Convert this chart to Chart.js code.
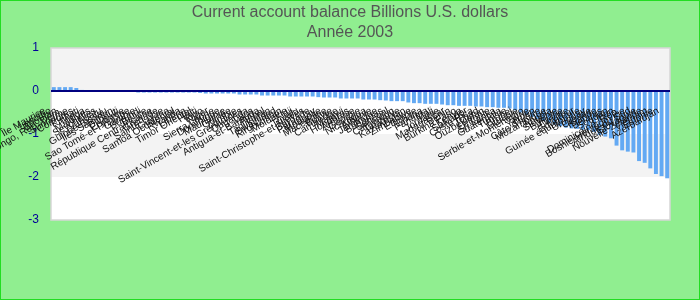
<!DOCTYPE html>
<html>
<head>
<meta charset="utf-8">
<script src="https://cdn.jsdelivr.net/npm/chart.js@4/dist/chart.umd.min.js"></script>
<style>
  html, body { margin: 0; padding: 0; background: #90ee90; }
  #wrap { width: 700px; height: 300px; }
</style>
</head>
<body>
<div id="wrap"><canvas id="myChart" width="700" height="300"></canvas></div>
<script>
// DATA
var countries = [
  'Île Maurice', 'Lesotho', 'Bhoutan', 'Congo, Rép. Dém.', 'Suriname', 'Comores', 'Kiribati', 'Tonga', 'Maldives', 'Seychelles',
  'Vanuatu', 'Guinée-Bissau', 'Îles Salomon', 'Djibouti', 'Érythrée', 'Sao Tomé-et-Principe', 'Gambie', 'Burundi', 'Belize', 'République Centrafricaine',
  'Grenade', 'Sainte-Lucie', 'Guyana', 'Samoa Occidental', 'Rwanda', 'Libéria', 'Timor Oriental', 'Haïti', 'Togo', 'Niger',
  'Sierra Leone', 'Dominique', 'Mauritanie', 'Guinée', 'Zambie', 'Saint-Vincent-et-les Grenadines', 'Ouganda', 'Laos', 'Antigua-et-Barbuda', 'Népal',
  'Tadjikistan', 'Swaziland', 'Kirghizistan', 'Moldavie', 'Fidji', 'Tuvalu', 'Saint-Christophe-et-Niévès', 'Barbade', 'Paraguay', 'Mongolie',
  'Macédoine', 'Bolivie', 'Cambodge', 'Malawi', 'Honduras', 'Arménie', 'Géorgie', 'Nicaragua', 'Albanie', 'Jamaïque',
  'Bahamas', 'Sénégal', 'Cameroun', 'Tanzanie', 'Kazakhstan', 'Zimbabwe', 'Éthiopie', 'Ghana', 'Panama', 'Mali',
  'Jordanie', 'Madagascar', 'Bénin', 'Burkina Faso', 'Kenya', 'Salvador', 'Costa Rica', 'Tchad', 'Ouzbékistan', 'Lettonie',
  'Sri Lanka', 'Guatemala', 'Tunisie', 'Brunei', 'Lituanie', 'Serbie-et-Monténégro', 'Syrie', 'Yémen', "Côte d'Ivoire", 'Mozambique',
  'Angola', 'Slovénie', 'Bulgarie', 'Chypre', 'Équateur', 'Guinée équatoriale', 'Uruguay', 'Croatie', 'Islande', 'Belarus',
  'Soudan', 'Liban', 'Dominicaine, Rép.', 'Bosnie-Herzégovine', 'Afrique du Sud', 'Slovaquie', 'Nouvelle-Zélande', 'Vietnam', 'Estonie', 'Azerbaïdjan'
];
var balance = [
  0.09, 0.09, 0.09, 0.09, 0.07, 0.025, 0.02, 0.02, 0.02, 0.004,
  0.003, 0.002, 0.001, -0.002, -0.004, -0.035, -0.035, -0.035, -0.035, -0.035,
  -0.035, -0.035, -0.035, -0.035, -0.035, -0.035, -0.045, -0.058, -0.058, -0.058,
  -0.058, -0.058, -0.058, -0.081, -0.081, -0.081, -0.081, -0.105, -0.105, -0.105,
  -0.105, -0.105, -0.128, -0.128, -0.128, -0.128, -0.128, -0.143, -0.151, -0.151,
  -0.151, -0.174, -0.174, -0.174, -0.174, -0.198, -0.198, -0.198, -0.213, -0.221,
  -0.236, -0.236, -0.236, -0.267, -0.283, -0.283, -0.298, -0.298, -0.298, -0.314,
  -0.33, -0.33, -0.345, -0.345, -0.345, -0.36, -0.36, -0.376, -0.376, -0.39,
  -0.39, -0.407, -0.45, -0.50, -0.55, -0.60, -0.65, -0.70, -0.74, -0.78,
  -0.82, -0.85, -0.87, -0.88, -0.90, -0.91, -0.95, -1.02, -1.06, -1.10,
  -1.27, -1.38, -1.41, -1.43, -1.63, -1.67, -1.80, -1.93, -1.98, -2.03
];
var yTicks = [1, 0, -1, -2, -3];
var titleLines = ['Current account balance Billions U.S. dollars', 'Année 2003'];

// background, title, bands and plot border
const backPlugin = {
  id: 'back',
  beforeDraw: function (chart) {
    const ctx = chart.ctx, a = chart.chartArea, y = chart.scales.y;
    ctx.save();
    ctx.fillStyle = '#90ee90';
    ctx.fillRect(0, 0, chart.width, chart.height);
    ctx.strokeStyle = '#22dd22';
    ctx.lineWidth = 1;
    ctx.strokeRect(0.5, 0.5, chart.width - 1, chart.height - 1);
    // title
    ctx.fillStyle = '#555555';
    ctx.font = '16px Arial, "Liberation Sans", sans-serif';
    ctx.textAlign = 'center';
    ctx.textBaseline = 'middle';
    ctx.fillText(titleLines[0], chart.width / 2, 13);
    ctx.fillText(titleLines[1], chart.width / 2, 32.5);
    for (var i = 0; i < yTicks.length - 1; i++) {
      var t = y.getPixelForValue(yTicks[i]);
      var b = y.getPixelForValue(yTicks[i + 1]);
      ctx.fillStyle = i % 2 === 0 ? '#f3f3f3' : '#ffffff';
      ctx.fillRect(a.left, t, a.right - a.left, b - t);
    }
    ctx.strokeStyle = '#d6d6d6';
    ctx.lineWidth = 1.5;
    ctx.strokeRect(a.left, a.top, a.right - a.left, a.bottom - a.top);
    ctx.restore();
  },
  afterDatasetsDraw: function (chart) {
    const ctx = chart.ctx, a = chart.chartArea, x = chart.scales.x, y = chart.scales.y;
    const y0 = y.getPixelForValue(0);
    ctx.save();
    ctx.strokeStyle = '#000080';
    ctx.lineWidth = 2;
    ctx.beginPath();
    ctx.moveTo(a.left, y0);
    ctx.lineTo(a.right, y0);
    ctx.stroke();
    // category labels, rotated, hung under the zero line
    ctx.fillStyle = '#111';
    ctx.font = '10px Arial, "Liberation Sans", sans-serif';
    ctx.textAlign = 'right';
    ctx.textBaseline = 'middle';
    countries.forEach(function (c, i) {
      var px = x.getPixelForValue(i);
      ctx.save();
      ctx.translate(px - 9, y0 + 19);
      ctx.rotate(-Math.PI / 6);
      ctx.fillText(c, 0, 0);
      ctx.restore();
    });
    ctx.restore();
  }
};

//CONFIG
const config = {
  type: 'bar',
  data: {
    labels: countries,
    datasets: [{
      data: balance,
      backgroundColor: '#63a9f3',
      borderWidth: 0,
      barPercentage: 0.7,
      categoryPercentage: 1
    }]
  },
  options: {
    responsive: false,
    animation: false,
    devicePixelRatio: 1,
    layout: { padding: { top: 48, right: 30, bottom: 80, left: 0 } },
    plugins: {
      legend: { display: false },
      tooltip: { enabled: false },
      title: { display: false }
    },
    scales: {
      x: { display: false, offset: true },
      y: {
        min: -3,
        max: 1,
        afterBuildTicks: function (s) { s.ticks = yTicks.map(function (v) { return { value: v }; }); },
        afterFit: function (s) { s.width = 51; },
        grid: { display: false, drawTicks: false },
        border: { display: false },
        ticks: {
          color: '#000099',
          padding: 12,
          font: { size: 12, family: 'Arial, "Liberation Sans", sans-serif' }
        }
      }
    }
  },
  plugins: [backPlugin]
};

//Render
const myChart = new Chart(document.getElementById('myChart'), config);
</script>
</body>
</html>
